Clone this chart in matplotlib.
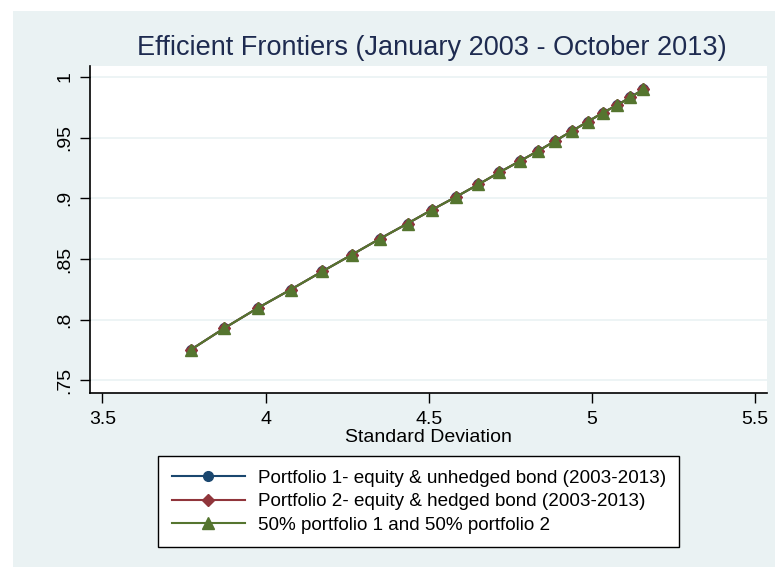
import matplotlib
matplotlib.use('Agg')
import matplotlib.pyplot as plt
from matplotlib.patches import Rectangle

# Efficient frontier points (std dev, expected return)
p1_sd = [3.770, 3.874, 3.976, 4.077, 4.174, 4.265, 4.351, 4.435, 4.511, 4.583, 4.652,
         4.716, 4.779, 4.836, 4.888, 4.938, 4.987, 5.033, 5.078, 5.117, 5.158]
p1_ret = [0.7752, 0.7932, 0.8097, 0.8249, 0.8399, 0.8537, 0.8669, 0.8793, 0.8908, 0.9012, 0.9115,
          0.9214, 0.9307, 0.9392, 0.9474, 0.9554, 0.9631, 0.9705, 0.9769, 0.9832, 0.9898]

p2_sd = [3.770, 3.874, 3.976, 4.077, 4.174, 4.265, 4.351, 4.435, 4.511, 4.583, 4.652,
         4.716, 4.779, 4.836, 4.888, 4.938, 4.987, 5.033, 5.078, 5.117, 5.158]
p2_ret = [0.7752, 0.7932, 0.8097, 0.8249, 0.8399, 0.8537, 0.8669, 0.8793, 0.8908, 0.9012, 0.9115,
          0.9214, 0.9307, 0.9392, 0.9474, 0.9554, 0.9631, 0.9705, 0.9769, 0.9832, 0.9898]

mix_sd = [3.770, 3.874, 3.976, 4.077, 4.174, 4.265, 4.351, 4.435, 4.511, 4.583, 4.652,
          4.716, 4.779, 4.836, 4.888, 4.938, 4.987, 5.033, 5.078, 5.117, 5.158]
mix_ret = [0.7752, 0.7932, 0.8097, 0.8249, 0.8399, 0.8537, 0.8669, 0.8793, 0.8908, 0.9012, 0.9115,
           0.9214, 0.9307, 0.9392, 0.9474, 0.9554, 0.9631, 0.9705, 0.9769, 0.9832, 0.9898]

labels = ['Portfolio 1- equity & unhedged bond (2003-2013)',
          'Portfolio 2- equity & hedged bond (2003-2013)',
          '50% portfolio 1 and 50% portfolio 2']
x_ticks = [3.5, 4, 4.5, 5, 5.5]
x_ticklabels = ['3.5', '4', '4.5', '5', '5.5']
y_ticks = [0.75, 0.8, 0.85, 0.9, 0.95, 1.0]
y_ticklabels = ['.75', '.8', '.85', '.9', '.95', '1']

# Stata s2color style
colors = ['#1A476F', '#90353B', '#55752F']
bg = '#EAF2F3'
plt.rcParams['font.family'] = ['Liberation Sans', 'DejaVu Sans']

W, H = 778, 567
fig = plt.figure(figsize=(W / 100, H / 100), dpi=100)
fig.patch.set_facecolor('white')
fig.patches.append(Rectangle((13 / W, 0), (775 - 13) / W, (H - 11) / H,
                             transform=fig.transFigure, facecolor=bg,
                             edgecolor='none', zorder=-10))

ax = fig.add_axes([90 / W, 1 - 392.5 / H, (767 - 90) / W, (392.5 - 66) / H])
ax.set_facecolor('white')

ax.plot(p1_sd, p1_ret, color=colors[0], marker='o', markersize=7, linewidth=1.5,
        label=labels[0], zorder=3)
ax.plot(p2_sd, p2_ret, color=colors[1], marker='D', markersize=6.5, linewidth=1.5,
        label=labels[1], zorder=4)
ax.plot(mix_sd, mix_ret, color=colors[2], marker='^', markersize=8, linewidth=1.5,
        label=labels[2], zorder=5)

ax.set_xlim(3.4617, 5.537)
ax.set_ylim(0.7401, 1.0091)
ax.set_xticks(x_ticks)
ax.set_xticklabels(x_ticklabels)
ax.set_yticks(y_ticks)
ax.set_yticklabels(y_ticklabels)
ax.tick_params(axis='both', length=7, width=1, color='black', labelsize=14, labelcolor='black')
ax.tick_params(axis='x', pad=6)
ax.tick_params(axis='y', labelrotation=90, pad=5)
for lab in ax.get_yticklabels():
    lab.set_verticalalignment('center')

ax.spines['top'].set_visible(False)
ax.spines['right'].set_visible(False)
ax.spines['left'].set_linewidth(1.2)
ax.spines['bottom'].set_linewidth(1.2)
ax.yaxis.grid(True, color=bg, linewidth=1.2)
ax.set_axisbelow(True)

ax.set_xlabel('Standard Deviation', fontsize=14, labelpad=1)

fig.text(431.5 / W, 1 - 55 / H, 'Efficient Frontiers (January 2003 - October 2013)',
         ha='center', va='baseline', fontsize=19.5, color='#1E2B50')

leg = fig.legend(loc='upper left', bbox_to_anchor=(158 / W, 1 - 456 / H),
                 fontsize=13.6, frameon=True, fancybox=False, borderaxespad=0,
                 handlelength=3.86, handletextpad=0.69, borderpad=0.72,
                 labelspacing=0.33)
leg.get_frame().set_edgecolor('black')
leg.get_frame().set_linewidth(1)
leg.get_frame().set_facecolor('white')
leg.get_frame().set_alpha(1)

plt.savefig('out.png', dpi=100)
